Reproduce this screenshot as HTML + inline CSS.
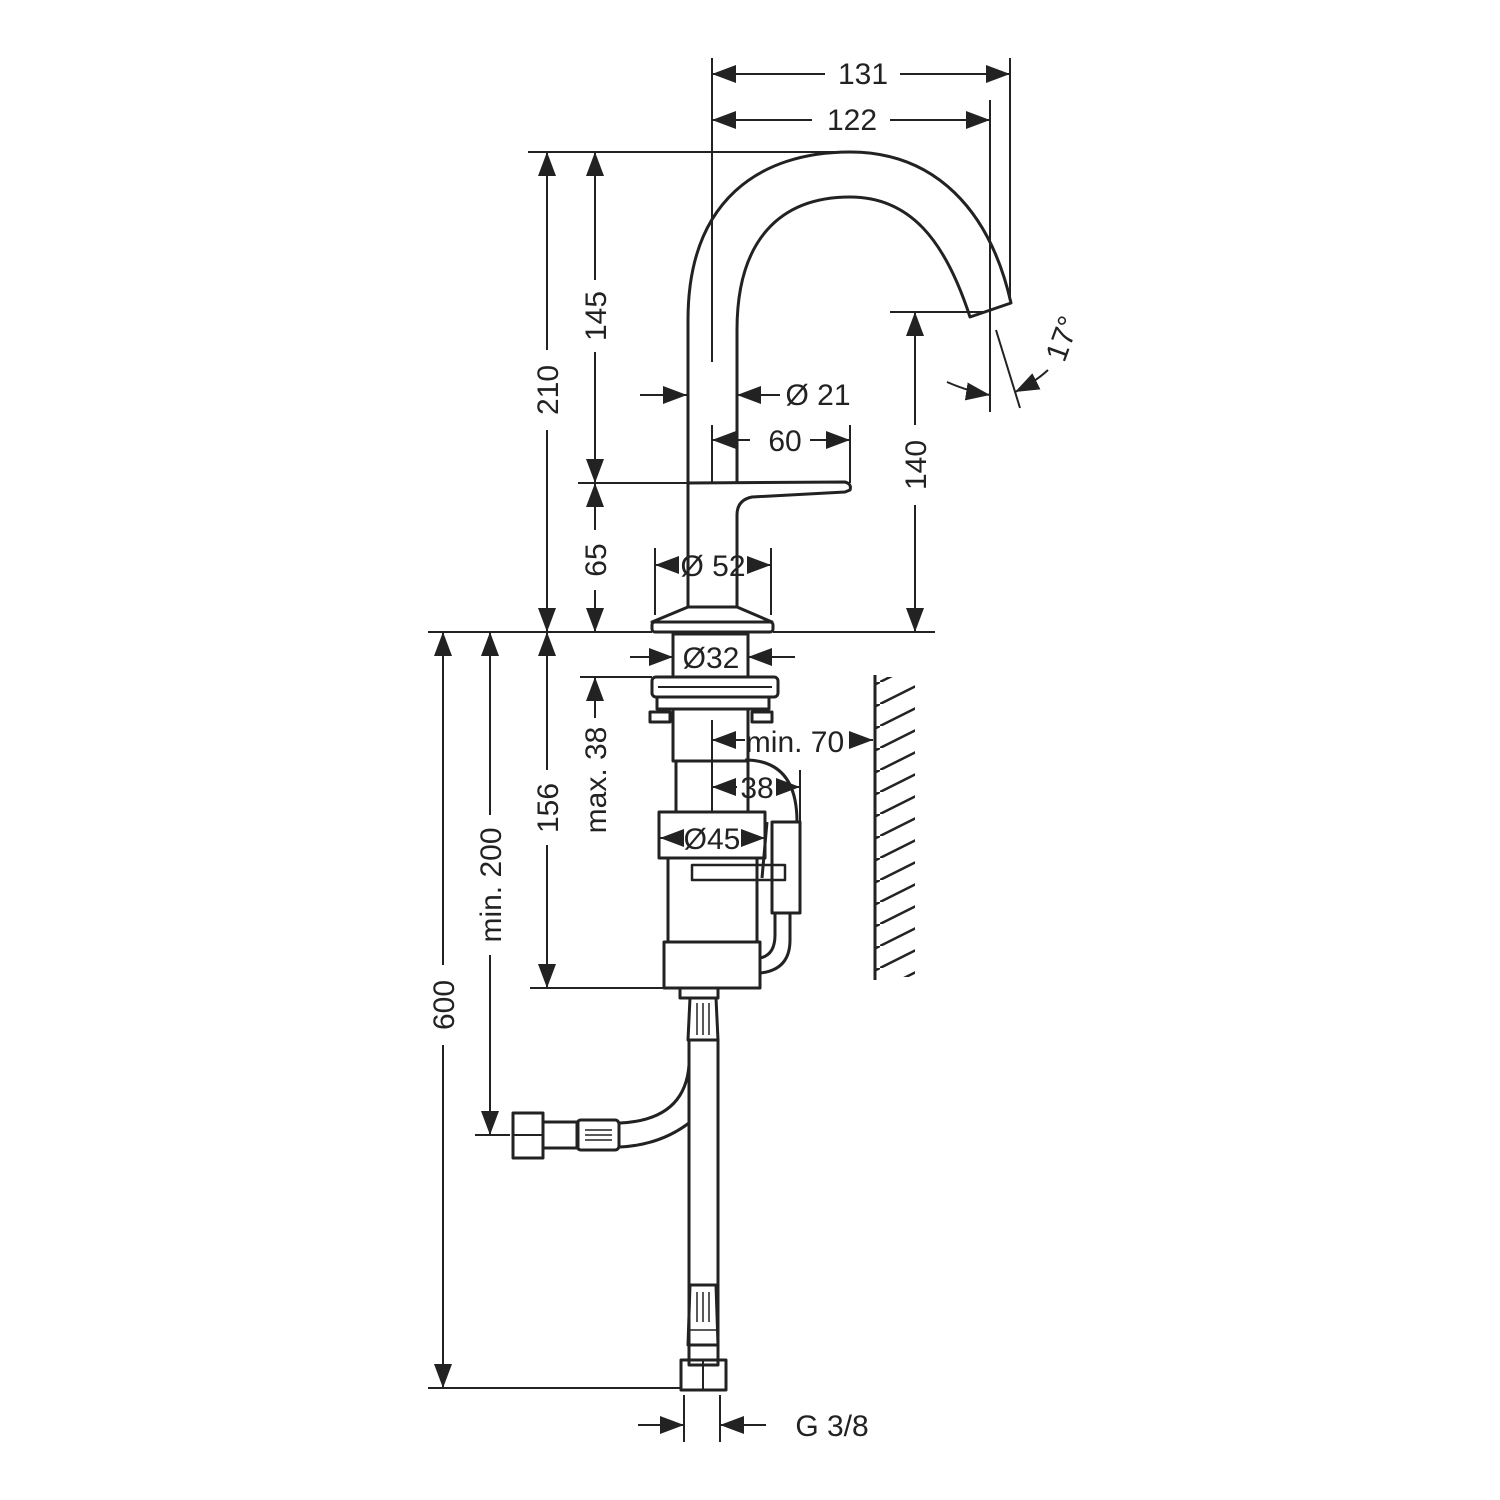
<!DOCTYPE html>
<html><head><meta charset="utf-8"><style>
html,body{margin:0;padding:0;background:#fff;}
svg{display:block}
text{font-family:"Liberation Sans",sans-serif;font-size:30px;fill:#222}
</style></head><body>
<svg width="1500" height="1500" viewBox="0 0 1500 1500" xmlns="http://www.w3.org/2000/svg">
<defs>
<marker id="a" markerUnits="userSpaceOnUse" markerWidth="24" markerHeight="18" viewBox="0 0 24 18" refX="24" refY="9" orient="auto-start-reverse"><path d="M0,0 L24,9 L0,18z" fill="#222"/></marker>
<pattern id="h" patternUnits="userSpaceOnUse" width="44" height="22"><path d="M0,22 L44,0" stroke="#222" stroke-width="2.5"/></pattern>
</defs>
<g stroke="#222" stroke-width="2" fill="none">
<line x1="712" y1="58" x2="712" y2="362"/>
<line x1="1010" y1="58" x2="1010" y2="300"/>
<line x1="990" y1="100" x2="990" y2="412"/>
<line x1="528" y1="152" x2="850" y2="152"/>
<line x1="578" y1="483" x2="687" y2="483"/>
<line x1="428" y1="632" x2="652" y2="632"/>
<line x1="773" y1="632" x2="935" y2="632"/>
<line x1="890" y1="312" x2="985" y2="312"/>
<line x1="850" y1="425" x2="850" y2="483"/>
<line x1="712" y1="425" x2="712" y2="483"/>
<line x1="655" y1="548" x2="655" y2="615"/>
<line x1="771" y1="548" x2="771" y2="615"/>
<line x1="996" y1="330" x2="1020" y2="408"/>
<line x1="580" y1="677" x2="652" y2="677"/>
<line x1="530" y1="988" x2="668" y2="988"/>
<line x1="475" y1="1135" x2="510" y2="1135"/>
<line x1="428" y1="1388" x2="680" y2="1388"/>
<line x1="712" y1="720" x2="712" y2="812"/>
<line x1="800" y1="770" x2="800" y2="822"/>
<line x1="684" y1="1395" x2="684" y2="1442"/>
<line x1="720" y1="1395" x2="720" y2="1442"/>
<line x1="712" y1="74" x2="825" y2="74" marker-start="url(#a)"/>
<line x1="900" y1="74" x2="1010" y2="74" marker-end="url(#a)"/>
<line x1="712" y1="120" x2="812" y2="120" marker-start="url(#a)"/>
<line x1="890" y1="120" x2="990" y2="120" marker-end="url(#a)"/>
<line x1="547" y1="152" x2="547" y2="350" marker-start="url(#a)"/>
<line x1="547" y1="430" x2="547" y2="632" marker-end="url(#a)"/>
<line x1="595" y1="152" x2="595" y2="280" marker-start="url(#a)"/>
<line x1="595" y1="352" x2="595" y2="483" marker-end="url(#a)"/>
<line x1="595" y1="483" x2="595" y2="530" marker-start="url(#a)"/>
<line x1="595" y1="590" x2="595" y2="632" marker-end="url(#a)"/>
<line x1="915" y1="312" x2="915" y2="425" marker-start="url(#a)"/>
<line x1="915" y1="505" x2="915" y2="632" marker-end="url(#a)"/>
<line x1="712" y1="440" x2="750" y2="440" marker-start="url(#a)"/>
<line x1="810" y1="440" x2="850" y2="440" marker-end="url(#a)"/>
<line x1="655" y1="565" x2="679" y2="565" marker-start="url(#a)"/>
<line x1="747" y1="565" x2="771" y2="565" marker-end="url(#a)"/>
<line x1="443" y1="632" x2="443" y2="965" marker-start="url(#a)"/>
<line x1="443" y1="1045" x2="443" y2="1388" marker-end="url(#a)"/>
<line x1="490" y1="632" x2="490" y2="815" marker-start="url(#a)"/>
<line x1="490" y1="955" x2="490" y2="1135" marker-end="url(#a)"/>
<line x1="547" y1="632" x2="547" y2="770" marker-start="url(#a)"/>
<line x1="547" y1="845" x2="547" y2="988" marker-end="url(#a)"/>
<line x1="595" y1="677" x2="595" y2="718" marker-start="url(#a)"/>
<line x1="712" y1="740" x2="745" y2="740" marker-start="url(#a)"/>
<line x1="712" y1="787" x2="737" y2="787" marker-start="url(#a)"/>
<line x1="776" y1="787" x2="800" y2="787" marker-end="url(#a)"/>
<line x1="660" y1="838" x2="684" y2="838" marker-start="url(#a)"/>
<line x1="741" y1="838" x2="765" y2="838" marker-end="url(#a)"/>
<line x1="640" y1="395" x2="687" y2="395" marker-end="url(#a)"/>
<line x1="780" y1="395" x2="737" y2="395" marker-end="url(#a)"/>
<line x1="630" y1="657" x2="673" y2="657" marker-end="url(#a)"/>
<line x1="795" y1="657" x2="748" y2="657" marker-end="url(#a)"/>
<line x1="850" y1="740" x2="873" y2="740" marker-end="url(#a)"/>
<line x1="638" y1="1425" x2="684" y2="1425" marker-end="url(#a)"/>
<line x1="766" y1="1425" x2="720" y2="1425" marker-end="url(#a)"/>
<path d="M947,382 Q970,392 990,395" marker-end="url(#a)"/>
<path d="M1048,370 Q1035,382 1015,392" marker-end="url(#a)"/>
</g>
<g stroke="#222" stroke-width="3" fill="none" stroke-linejoin="round">
<path d="M688,606 L688,320 C688,200 760,152 850,152 C935,152 990,210 1011,303 L970,317 C945,240 910,197 850,197 C780,197 737,240 737,330 L737,483"/>
<path d="M688,483 L845,482 Q852,484 850,490 L845,492 L752,497 Q737,500 737,515 L737,606"/>
<path d="M688,607 L737,607 L772,622 L652,622 Z"/>
<rect x="652" y="622" width="121" height="10" rx="3"/>
<rect x="673" y="634" width="75" height="43"/>
<rect x="652" y="677" width="126" height="20" rx="4"/>
<line x1="658" y1="687" x2="772" y2="687" stroke-width="2"/>
<rect x="657" y="697" width="112" height="12"/>
<rect x="650" y="712" width="20" height="10"/>
<rect x="752" y="712" width="20" height="10"/>
<rect x="673" y="709" width="75" height="52"/>
<rect x="676" y="761" width="72" height="51"/>
<rect x="659" y="812" width="106" height="46"/>
<rect x="668" y="858" width="89" height="84"/>
<rect x="664" y="942" width="96" height="46"/>
<rect x="692" y="865" width="93" height="15" stroke-width="2.5"/>
<rect x="772" y="822" width="28" height="91"/>
<path d="M745,760 Q797,760 797,822 M790,913 L790,940 Q790,970 760,973 M775,913 L775,935 Q775,955 760,958 M767,822 L762,878"/>
<rect x="680" y="988" width="38" height="10"/>
<path d="M690,998 L716,998 L718,1040 L688,1040 Z"/>
<path d="M697,1003 L697,1035 M703,1003 L703,1035 M709,1003 L709,1035" stroke-width="1.5"/>
<rect x="689" y="1040" width="29" height="325"/>
<path d="M690,1285 L716,1285 L718,1345 L688,1345 Z"/>
<path d="M697,1292 L697,1322 M703,1292 L703,1322 M709,1292 L709,1322 M688,1330 L718,1330" stroke-width="1.5"/>
<rect x="681" y="1360" width="45" height="30"/>
<line x1="703" y1="1360" x2="703" y2="1390" stroke-width="2"/>
<path d="M689,1065 Q685,1120 620,1123 M689,1123 Q660,1145 620,1147"/>
<rect x="513" y="1113" width="30" height="45"/>
<line x1="513" y1="1135" x2="543" y2="1135" stroke-width="2"/>
<rect x="543" y="1122" width="35" height="26"/>
<rect x="577" y="1120" width="42" height="30" rx="4"/>
<path d="M585,1130 L612,1130 M585,1135 L612,1135 M585,1140 L612,1140" stroke-width="1.5"/>
</g>
<rect x="875" y="677" width="40" height="300" fill="url(#h)"/>
<line x1="875" y1="675" x2="875" y2="980" stroke="#222" stroke-width="3"/>
<text x="863" y="84" text-anchor="middle">131</text>
<text x="852" y="130" text-anchor="middle">122</text>
<text x="818" y="405" text-anchor="middle">Ø 21</text>
<text x="785" y="451" text-anchor="middle">60</text>
<text x="713" y="576" text-anchor="middle">Ø 52</text>
<text x="711" y="668" text-anchor="middle">Ø32</text>
<text x="795" y="752" text-anchor="middle">min. 70</text>
<text x="757" y="798" text-anchor="middle">38</text>
<text x="712" y="849" text-anchor="middle">Ø45</text>
<text x="832" y="1436" text-anchor="middle">G 3/8</text>
<text transform="translate(1072,342) rotate(-70)" text-anchor="middle">17°</text>
<text transform="translate(558,390) rotate(-90)" text-anchor="middle">210</text>
<text transform="translate(606,316) rotate(-90)" text-anchor="middle">145</text>
<text transform="translate(606,560) rotate(-90)" text-anchor="middle">65</text>
<text transform="translate(926,465) rotate(-90)" text-anchor="middle">140</text>
<text transform="translate(454,1005) rotate(-90)" text-anchor="middle">600</text>
<text transform="translate(501,885) rotate(-90)" text-anchor="middle">min. 200</text>
<text transform="translate(558,808) rotate(-90)" text-anchor="middle">156</text>
<text transform="translate(606,780) rotate(-90)" text-anchor="middle">max. 38</text>
</svg>
</body></html>
